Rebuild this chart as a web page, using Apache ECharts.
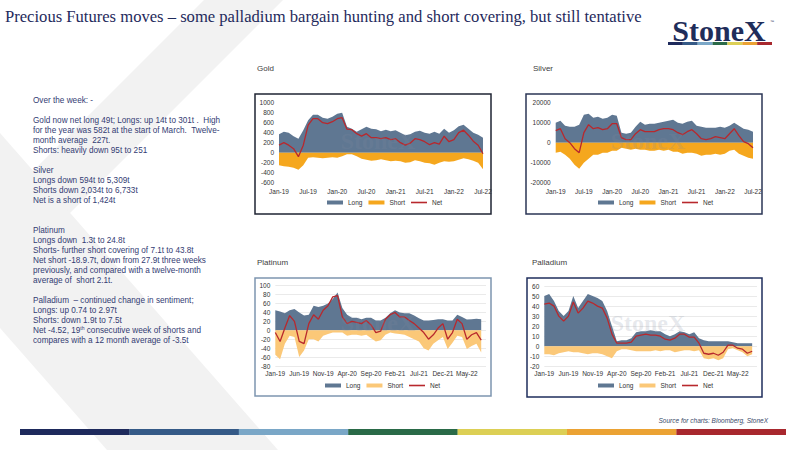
<!DOCTYPE html>
<html>
<head>
<meta charset="utf-8">
<script src="https://cdn.jsdelivr.net/npm/echarts@6/dist/echarts.min.js"></script>
<style>
html,body{margin:0;padding:0;background:#fff;}
#c{width:800px;height:450px;}
</style>
</head>
<body>
<div id="c"></div>
<script>
// ---- tick labels / categories ----
const months = ['Jan-19','Feb-19','Mar-19','Apr-19','May-19','Jun-19','Jul-19','Aug-19','Sep-19','Oct-19','Nov-19','Dec-19',
'Jan-20','Feb-20','Mar-20','Apr-20','May-20','Jun-20','Jul-20','Aug-20','Sep-20','Oct-20','Nov-20','Dec-20',
'Jan-21','Feb-21','Mar-21','Apr-21','May-21','Jun-21','Jul-21','Aug-21','Sep-21','Oct-21','Nov-21','Dec-21',
'Jan-22','Feb-22','Mar-22','Apr-22','May-22','Jun-22','Jul-22','Aug-22','Sep-22'];
const goldCats = months.slice(0, 43);
const pgmCats = months.slice(0, 45);

// ---- Gold (tonnes) ----
const goldLong  = [370,420,400,330,280,450,650,760,760,700,680,720,780,800,520,480,420,470,520,480,470,430,460,430,450,400,350,370,420,440,400,380,420,380,480,400,450,530,560,480,400,360,300];
const goldShort = [-250,-270,-280,-300,-340,-250,-100,-90,-100,-110,-100,-90,-100,-70,-30,-30,-70,-120,-140,-160,-150,-130,-150,-170,-160,-170,-200,-190,-150,-170,-200,-210,-240,-200,-170,-180,-170,-140,-110,-130,-160,-200,-330];
const goldNet   = [150,200,150,80,-80,150,550,680,680,600,580,620,680,700,470,460,380,330,380,300,300,280,300,260,280,200,150,190,280,260,220,160,200,170,330,220,260,400,450,350,230,150,-20];

// ---- Silver ----
const silverLong  = [10000,11000,8500,8000,8000,9000,14000,14500,12500,13000,12000,12500,14000,13500,5000,4500,5000,8000,10500,9000,9500,9500,10000,10500,11000,11500,10000,9500,10500,11000,8500,8000,7500,7500,7500,8000,7500,8500,10000,8500,7000,6500,5500];
const silverShort = [-5000,-4500,-6000,-8000,-11000,-13000,-10000,-8000,-6000,-6000,-5000,-5000,-4000,-4000,-2500,-3000,-3500,-3000,-3500,-3500,-4000,-4000,-3500,-4000,-3500,-4500,-4500,-5500,-5000,-5000,-5500,-6500,-6000,-6000,-5500,-6000,-5500,-4000,-3500,-5500,-6500,-7500,-8000];
const silverNet   = [6000,7000,2000,0,-3000,-5000,5000,9000,7000,7500,6500,7000,9500,9500,2500,1500,1500,4500,6500,5500,5500,5500,6500,7000,7000,6500,5000,4000,5500,6500,4500,2000,1500,2000,3000,2500,2000,4500,7000,3500,500,-500,-2500];

// ---- Platinum ----
const platLong  = [45,42,38,45,48,40,33,35,55,52,55,60,70,85,50,35,28,28,25,28,28,22,22,28,38,45,40,38,38,33,27,22,22,23,25,25,22,22,35,30,24,25,26,25];
const platShort = [-55,-65,-30,-12,-15,-60,-45,-20,-20,-25,-12,-8,-5,-5,-5,-12,-10,-10,-12,-10,-18,-25,-22,-10,-5,-7,-8,-10,-15,-20,-25,-40,-45,-30,-22,-15,-42,-28,-12,-15,-42,-35,-30,-50];
const platNet   = [-5,-25,5,33,20,-25,-30,15,35,25,45,55,75,78,30,15,20,18,15,22,12,-5,-2,25,35,40,30,30,22,15,5,-5,-20,-10,5,15,-20,-5,25,15,-20,-10,-5,-22];

// ---- Palladium ----
const pallLong  = [50,52,45,35,30,35,50,38,45,52,50,48,45,35,20,5,6,6,8,14,15,15,16,15,15,12,10,12,15,14,12,14,8,6,5,5,5,5,5,4,3,3,3,3];
const pallShort = [-8,-8,-9,-7,-6,-5,-6,-6,-7,-8,-7,-7,-8,-10,-12,-5,-3,-3,-4,-5,-5,-5,-5,-4,-5,-4,-4,-6,-5,-4,-4,-5,-4,-12,-13,-12,-14,-12,-3,-2,-4,-6,-10,-8];
const pallNet   = [42,43,40,30,25,30,44,33,38,45,43,40,38,28,12,3,3,3,4,10,11,12,11,11,10,7,6,8,12,12,9,9,3,-7,-8,-7,-9,-6,1,1,-2,-3,-7,-5];

const C_LONG = '#5f7792';
const C_SHORT_A = '#f5a71e';
const C_SHORT_B = '#fbc878';
const C_NET = '#b8282d';
const FONT = "'Liberation Sans', Arial, sans-serif";
const TXT = '#333c73';

function xAx(gi, cats, interval, margin) {
  return {type:'category', gridIndex:gi, data:cats, boundaryGap:false,
    axisLine:{show:false}, axisTick:{show:false},
    axisLabel:{interval:interval, fontSize:6.5, color:'#333', margin:margin, fontFamily:FONT},
    splitLine:{show:false}};
}
function yAx(gi, min, max, interval, grid) {
  return {type:'value', gridIndex:gi, min:min, max:max, interval:interval,
    axisLine:{show:false}, axisTick:{show:false},
    axisLabel:{fontSize:6.5, color:'#333', margin:5, fontFamily:FONT, formatter:function(v){return String(v);}},
    splitLine:{show:grid, lineStyle:{color:'#dcdcdc', width:0.6}}};
}
function area(name, gi, data, color) {
  return {name:name, type:'line', xAxisIndex:gi, yAxisIndex:gi, data:data, symbol:'none',
    color:color, lineStyle:{width:0}, areaStyle:{color:color, opacity:1}, silent:true, z:2};
}
function net(gi, data) {
  return {name:'Net', type:'line', xAxisIndex:gi, yAxisIndex:gi, data:data, symbol:'none',
    color:C_NET, lineStyle:{width:1.3, color:C_NET}, silent:true, z:3};
}
function leg(left, top, shortColor) {
  return {left:left, top:top, itemWidth:16, itemHeight:4, itemGap:6, padding:0, symbolKeepAspect:true,
    textStyle:{fontSize:6.5, color:'#333', fontFamily:FONT},
    data:[{name:'Long', icon:'rect', itemStyle:{color:C_LONG}},
          {name:'Short', icon:'rect', itemStyle:{color:shortColor}},
          {name:'Net', icon:'path://M0,0 L16,0 L16,1.6 L0,1.6 Z', itemStyle:{color:C_NET}}]};
}

// background "X" bands, frames, texts
const bottomColors = ['#1e2a5c','#355a87','#7aa7c7','#2a6a48','#dccf55','#eba233','#a8282e'];
const graphics = [];
graphics.push({type:'polygon', shape:{points:[[204,0],[283,0],[0,283],[0,204]]}, style:{fill:'#f2f2f2'}, silent:true});
graphics.push({type:'polygon', shape:{points:[[0,133],[278,450],[107,450],[0,328]]}, style:{fill:'#f2f2f2'}, silent:true});
// frames
[[255,94,236,120,'#1f2433'],[526,94,236,120,'#2b3656'],[255,278,236,118,'#7d95b0'],[527,278,235,119,'#1f2e5c']].forEach(f=>{
  graphics.push({type:'rect', shape:{x:f[0],y:f[1],width:f[2],height:f[3]}, style:{fill:'#fff', stroke:f[4], lineWidth:1.5}, silent:true});
});
// title
graphics.push({type:'text', x:5, y:16, style:{text:'Precious Futures moves \u2013 some palladium bargain hunting and short covering, but still tentative',
  font:"16.6px 'Liberation Serif', 'Times New Roman', serif", fill:'#1f2a5c', textVerticalAlign:'middle', verticalAlign:'middle'}});
// logo
graphics.push({type:'text', x:719, y:30, style:{text:'StoneX', font:"bold 30px 'Liberation Serif', serif", fill:'#1f2d5a',
  textAlign:'center', align:'center', textVerticalAlign:'middle', verticalAlign:'middle'}});
graphics.push({type:'text', x:770, y:19, style:{text:'\u2122', font:"4px 'Liberation Sans', sans-serif", fill:'#1f2d5a'}});
for (let i=0;i<7;i++){
  graphics.push({type:'rect', shape:{x:668+i*104/7, y:42, width:104/7, height:3}, style:{fill:bottomColors[i]}, silent:true});
  graphics.push({type:'rect', shape:{x:20+i*109.4, y:429, width:109.6, height:6}, style:{fill:bottomColors[i]}, silent:true});
}
// chart titles
[['Gold',257,68],['Silver',533,68],['Platinum',257,262],['Palladium',532,262]].forEach(t=>{
  graphics.push({type:'text', x:t[1], y:t[2], style:{text:t[0], font:"8px "+FONT, fill:'#404040', textVerticalAlign:'middle', verticalAlign:'middle'}});
});
// watermarks
[[378,141],[648,141],[378,323],[648,323]].forEach(w=>{
  graphics.push({type:'text', x:w[0], y:w[1], z:10, silent:true, style:{text:'StoneX', font:"bold 24px 'Liberation Serif', serif", fill:'rgba(130,140,160,0.2)',
    textAlign:'center', align:'center', textVerticalAlign:'middle', verticalAlign:'middle'}});
});
// commentary
const commentary = 'Over the week: -\n\n' +
 'Gold now net long 49t; Longs: up 14t to 301t .  High\nfor the year was 582t at the start of March.  Twelve-\nmonth average  227t.\nShorts: heavily down 95t to 251\n\n' +
 'Silver\nLongs down 594t to 5,309t\nShorts down 2,034t to 6,733t\nNet is a short of 1,424t\n\n\n' +
 'Platinum\nLongs down  1.3t to 24.8t\nShorts- further short covering of 7.1t to 43.8t\nNet short -18.9.7t, down from 27.9t three weeks\npreviously, and compared with a twelve-month\naverage of  short 2.1t.\n\n' +
 'Palladium  \u2013 continued change in sentiment;\nLongs: up 0.74 to 2.97t\nShorts: down 1.9t to 7.5t';
graphics.push({type:'text', x:33, y:95.7, style:{text:commentary, font:"8.2px "+FONT, fill:TXT, lineHeight:10,
  textVerticalAlign:'top', verticalAlign:'top'}});
graphics.push({type:'text', x:33, y:325.7, style:{text:'Net -4.52, 19{sup|th} consecutive week of shorts and', font:"8.2px "+FONT, fill:TXT, lineHeight:10,
  textVerticalAlign:'top', verticalAlign:'top', rich:{sup:{fontSize:5, fill:TXT, verticalAlign:'top', lineHeight:10, padding:[0,0,4,0]}}}});
graphics.push({type:'text', x:33, y:335.7, style:{text:'compares with a 12 month average of -3.5t', font:"8.2px "+FONT, fill:TXT, lineHeight:10,
  textVerticalAlign:'top', verticalAlign:'top'}});
// source
graphics.push({type:'text', x:768, y:420, style:{text:'Source for charts: Bloomberg, StoneX', font:"italic 6.5px "+FONT, fill:'#3a4a6a',
  textAlign:'right', align:'right', textVerticalAlign:'middle', verticalAlign:'middle'}});

const option = {
  animation:false,
  backgroundColor:'#fff',
  graphic:{elements:graphics},
  grid:[
    {left:279, right:317, top:102.7, bottom:267.3},
    {left:555.7, right:47, top:102.7, bottom:267.3},
    {left:275.3, right:314, top:285.7, bottom:84},
    {left:544.3, right:43, top:286, bottom:83.7}
  ],
  xAxis:[xAx(0,goldCats,5,5), xAx(1,goldCats,5,5), xAx(2,pgmCats,4,4), xAx(3,pgmCats,4,4)],
  yAxis:[yAx(0,-600,1000,200,false), yAx(1,-20000,20000,10000,false), yAx(2,-80,100,20,true), yAx(3,-20,60,10,true)],
  legend:[leg(327,199,C_SHORT_A), leg(598,199,C_SHORT_A), leg(325,382,C_SHORT_B), leg(598,382,C_SHORT_B)],
  series:[
    area('Long',0,goldLong,C_LONG), area('Short',0,goldShort,C_SHORT_A), net(0,goldNet),
    area('Long',1,silverLong,C_LONG), area('Short',1,silverShort,C_SHORT_A), net(1,silverNet),
    area('Long',2,platLong,C_LONG), area('Short',2,platShort,C_SHORT_B), net(2,platNet),
    area('Long',3,pallLong,C_LONG), area('Short',3,pallShort,C_SHORT_B), net(3,pallNet)
  ]
};
const chart = echarts.init(document.getElementById('c'), null, {renderer:'svg'});
chart.setOption(option);
</script>
</body>
</html>
